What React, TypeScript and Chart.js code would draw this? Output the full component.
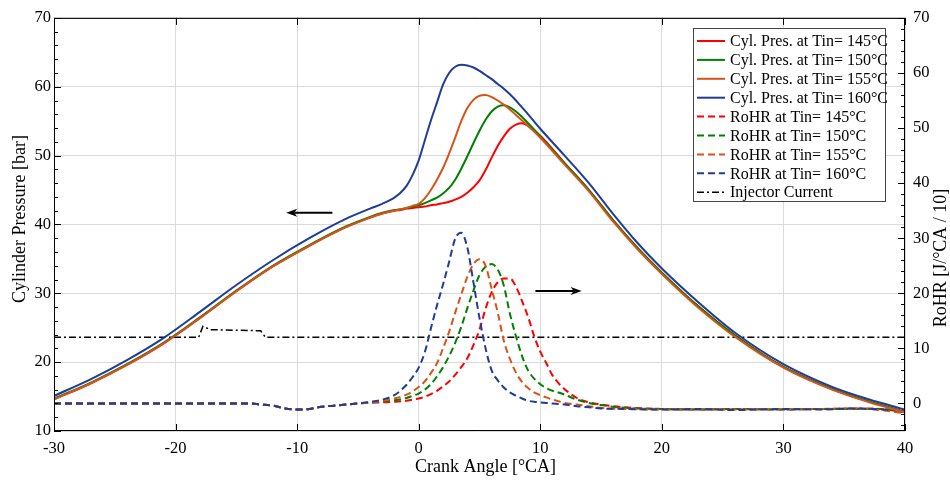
import React, { useEffect, useRef } from "react";
import { Chart, registerables } from "chart.js";
Chart.register(...registerables);

// ---------- data ----------
const CRANK_P = [-30, -27, -24, -21, -18, -15, -12, -9, -6, -4, -3, -2, -1.5, -1, -0.5, 0, 0.5, 1, 1.5, 2, 2.5, 3, 3.5, 4, 4.5, 5, 5.5, 6, 6.5, 7, 7.5, 8, 8.5, 9, 10, 12, 14, 16, 18, 20, 23, 26, 30, 34, 37, 40];
const P145 = [14.6, 16.9, 19.6, 22.7, 26.4, 30.3, 33.9, 36.9, 39.6, 41.0, 41.6, 42.0, 42.1, 42.3, 42.4, 42.5, 42.6, 42.8, 42.9, 43.1, 43.3, 43.6, 44.0, 44.6, 45.4, 46.4, 47.9, 49.7, 51.4, 52.8, 53.9, 54.5, 54.7, 54.3, 52.9, 48.9, 45.0, 40.6, 36.6, 33.0, 28.1, 23.9, 19.3, 16.1, 14.3, 12.8];
const P150 = [14.7, 17.0, 19.7, 22.8, 26.5, 30.4, 34.0, 37.0, 39.7, 41.1, 41.7, 42.1, 42.2, 42.4, 42.6, 42.8, 43.1, 43.5, 43.9, 44.5, 45.3, 46.5, 48.1, 49.9, 51.8, 53.6, 55.2, 56.4, 57.1, 57.3, 57.0, 56.4, 55.6, 54.7, 52.8, 48.9, 45.0, 40.6, 36.6, 33.0, 28.1, 23.9, 19.3, 16.1, 14.3, 12.8];
const P155 = [14.6, 16.9, 19.6, 22.7, 26.4, 30.3, 33.9, 36.9, 39.6, 41.0, 41.6, 42.0, 42.2, 42.4, 42.7, 43.0, 43.8, 45.0, 46.5, 48.2, 50.3, 52.6, 55.0, 56.9, 58.1, 58.7, 58.8, 58.5, 58.0, 57.4, 56.7, 55.9, 55.1, 54.3, 52.6, 48.7, 44.8, 40.4, 36.4, 32.8, 27.9, 23.7, 19.2, 16.0, 14.2, 12.7];
const P160 = [15.1, 17.5, 20.3, 23.5, 27.3, 31.2, 34.8, 38.0, 40.8, 42.3, 43.0, 43.9, 44.6, 45.6, 47.2, 49.3, 52.2, 55.1, 57.7, 60.3, 62.0, 62.9, 63.2, 63.1, 62.8, 62.3, 61.7, 61.1, 60.4, 59.7, 58.9, 58.0, 57.0, 56.0, 53.9, 50.0, 46.0, 41.5, 37.3, 33.6, 28.7, 24.3, 19.7, 16.4, 14.6, 13.1];

const CRANK_R = [-30, -20, -14, -13, -12, -11, -10, -9, -8, -7, -6, -5, -4, -3, -2, -1, -0.5, 0, 0.5, 1, 1.5, 2, 2.5, 3, 3.5, 4, 4.5, 5, 5.5, 6, 6.5, 7, 7.5, 8, 8.5, 9, 9.5, 10, 10.5, 11, 11.5, 12, 13, 14, 15, 17, 20, 23, 26, 30, 33, 36, 38, 40];
const R145 = [0, 0, 0, -0.2, -0.4, -0.9, -1.1, -1.0, -0.6, -0.4, -0.2, 0, 0.1, 0.2, 0.3, 0.5, 0.7, 0.9, 1.2, 1.7, 2.3, 3.1, 4.0, 5.2, 6.6, 8.2, 10.6, 13.4, 17.2, 20.2, 22.0, 22.7, 22.7, 21.2, 18.6, 15.7, 12.2, 9.4, 7.3, 5.1, 3.7, 2.6, 1.0, 0.2, -0.2, -0.7, -1.0, -1.1, -1.0, -1.1, -1.0, -0.9, -1.0, -1.6];
const R150 = [0, 0, 0, -0.2, -0.4, -0.9, -1.1, -1.0, -0.6, -0.4, -0.2, 0, 0.2, 0.4, 0.6, 1.0, 1.4, 1.8, 2.5, 3.5, 4.9, 6.6, 8.6, 11.0, 13.9, 17.3, 20.5, 23.3, 24.8, 25.3, 24.3, 21.4, 16.3, 12.2, 8.6, 6.0, 4.5, 3.5, 2.8, 2.3, 2.0, 1.6, 0.7, 0.1, -0.3, -0.8, -1.0, -1.1, -1.0, -1.1, -1.0, -1.0, -1.0, -1.5];
const R155 = [0, 0, 0, -0.2, -0.4, -0.9, -1.1, -1.0, -0.6, -0.4, -0.2, 0, 0.2, 0.5, 0.9, 1.6, 2.2, 3.0, 4.0, 5.5, 7.3, 10.0, 13.0, 16.5, 19.8, 23.0, 25.3, 26.2, 25.0, 20.8, 16.5, 11.4, 8.1, 5.6, 3.9, 2.8, 2.0, 1.5, 1.1, 0.7, 0.4, 0.1, -0.2, -0.5, -0.8, -1.0, -1.1, -1.1, -1.1, -1.0, -1.0, -0.9, -1.2, -1.8];
const R160 = [0, 0, 0, -0.2, -0.4, -0.9, -1.1, -1.0, -0.6, -0.4, -0.2, 0, 0.3, 0.7, 1.5, 3.4, 4.8, 6.5, 9.3, 13.6, 17.8, 21.6, 25.7, 29.9, 31.0, 28.3, 22.0, 15.5, 10.0, 6.0, 4.2, 2.9, 2.0, 1.4, 0.9, 0.5, 0.3, 0.2, 0.1, 0.0, -0.1, -0.2, -0.5, -0.7, -0.9, -1.0, -1.1, -1.0, -1.2, -1.0, -1.1, -0.9, -1.1, -1.3];

const INJ_X = [-30, -18.1, -17.75, -17.15, -13.0, -12.6, 40];
const INJ_Y = [12.0, 12.0, 14.0, 13.4, 13.2, 12.0, 12.0];

const X_TICKS = [-30, -20, -10, 0, 10, 20, 30, 40];
const LEFT_TICKS = [10, 20, 30, 40, 50, 60, 70];
const RIGHT_TICKS = [0, 10, 20, 30, 40, 50, 60, 70];

const LEGEND_LABELS = [
  "Cyl. Pres. at Tin= 145°C",
  "Cyl. Pres. at Tin= 150°C",
  "Cyl. Pres. at Tin= 155°C",
  "Cyl. Pres. at Tin= 160°C",
  "RoHR at Tin= 145°C",
  "RoHR at Tin= 150°C",
  "RoHR at Tin= 155°C",
  "RoHR at Tin= 160°C",
  "Injector Current",
];

// annotation arrows (data coordinates)
const ARROW_LEFT = { from: -7.1, to: -10.9, y: 41.7 }; // pressure axis
const ARROW_RIGHT = { from: 9.6, to: 13.4, y: 20.4 }; // RoHR axis

const C_RED = "#ff0000";
const C_GREEN = "#008000";
const C_ORANGE = "#d95319";
const C_BLUE = "#1f3c98";
const FONT = '"Liberation Serif", "Times New Roman", serif';

const pts = (xs: number[], ys: number[]) => xs.map((x, i) => ({ x, y: ys[i] }));

const overlayPlugin = {
  id: "overlay",
  afterDraw(chart: any) {
    const { ctx, chartArea: a, scales } = chart;
    const xs = scales.x, yl = scales.y, yr = scales.y1;
    ctx.save();
    ctx.strokeStyle = "#000";
    ctx.lineWidth = 1;
    // frame
    ctx.strokeRect(a.left + 0.5, a.top + 0.5, a.right - a.left - 1, a.bottom - a.top - 1);
    // inside ticks
    ctx.beginPath();
    for (let v = 10; v <= 70; v += 2) {
      const y = Math.round(yl.getPixelForValue(v)) + 0.5;
      const len = v % 10 === 0 ? 7 : 4;
      ctx.moveTo(a.left, y);
      ctx.lineTo(a.left + len, y);
    }
    for (let v = -4; v <= 70; v += 2) {
      const y = Math.round(yr.getPixelForValue(v)) + 0.5;
      const len = v % 10 === 0 ? 7 : 4;
      ctx.moveTo(a.right, y);
      ctx.lineTo(a.right - len, y);
    }
    for (const v of X_TICKS) {
      const x = Math.round(xs.getPixelForValue(v)) + 0.5;
      ctx.moveTo(x, a.bottom);
      ctx.lineTo(x, a.bottom - 7);
      ctx.moveTo(x, a.top);
      ctx.lineTo(x, a.top + 7);
    }
    ctx.stroke();

    // arrows
    const arrow = (x1: number, x2: number, y: number) => {
      ctx.strokeStyle = "#000";
      ctx.fillStyle = "#000";
      ctx.lineWidth = 2;
      const dir = Math.sign(x2 - x1);
      ctx.beginPath();
      ctx.moveTo(x1, y);
      ctx.lineTo(x2 - dir * 8, y);
      ctx.stroke();
      ctx.beginPath();
      ctx.moveTo(x2, y);
      ctx.lineTo(x2 - dir * 11, y - 4);
      ctx.lineTo(x2 - dir * 8, y);
      ctx.lineTo(x2 - dir * 11, y + 4);
      ctx.closePath();
      ctx.fill();
    };
    arrow(xs.getPixelForValue(ARROW_LEFT.from), xs.getPixelForValue(ARROW_LEFT.to), yl.getPixelForValue(ARROW_LEFT.y));
    arrow(xs.getPixelForValue(ARROW_RIGHT.from), xs.getPixelForValue(ARROW_RIGHT.to), yr.getPixelForValue(ARROW_RIGHT.y));

    // legend
    const lx = 693.5, ly = 28.5, lw = 192, lh = 173;
    ctx.fillStyle = "#fff";
    ctx.fillRect(lx, ly, lw, lh);
    ctx.strokeStyle = "#444";
    ctx.lineWidth = 1;
    ctx.strokeRect(lx, ly, lw, lh);
    const ds = chart.data.datasets;
    ctx.font = `16px ${FONT}`;
    ctx.textBaseline = "middle";
    ctx.textAlign = "left";
    LEGEND_LABELS.forEach((label, i) => {
      const d = ds[i];
      const y = 41 + i * 18.9;
      ctx.save();
      ctx.strokeStyle = d.borderColor;
      ctx.lineWidth = d.borderWidth;
      ctx.setLineDash(d.borderDash || []);
      ctx.beginPath();
      ctx.moveTo(697, y);
      ctx.lineTo(725, y);
      ctx.stroke();
      ctx.restore();
      ctx.fillStyle = "#000";
      ctx.fillText(label, 730, y + 1);
    });

    // titles
    ctx.fillStyle = "#000";
    ctx.font = `18px ${FONT}`;
    ctx.textAlign = "center";
    ctx.textBaseline = "middle";
    ctx.fillText("Crank Angle [°CA]", (a.left + a.right) / 2 + 6, 467);
    ctx.save();
    ctx.translate(20, 219);
    ctx.rotate(-Math.PI / 2);
    ctx.fillText("Cylinder Pressure [bar]", 0, 0);
    ctx.restore();
    ctx.save();
    ctx.translate(941, 258);
    ctx.rotate(-Math.PI / 2);
    ctx.fillText("RoHR [J/°CA / 10]", 0, 0);
    ctx.restore();
    ctx.restore();
  },
};

export default function App() {
  const ref = useRef<HTMLCanvasElement>(null);
  useEffect(() => {
    if (!ref.current) return;
    const dashR = [7, 4];
    const line = (data: any, color: string, axis: string, dash?: number[]) => ({
      data,
      borderColor: color,
      backgroundColor: color,
      borderWidth: 2,
      borderDash: dash,
      pointRadius: 0,
      fill: false,
      yAxisID: axis,
      cubicInterpolationMode: "monotone",
    });
    const datasets: any[] = [
      { ...line(pts(CRANK_P, P145), C_RED, "y"), order: 6 },
      { ...line(pts(CRANK_P, P150), C_GREEN, "y"), order: 5 },
      { ...line(pts(CRANK_P, P155), C_ORANGE, "y"), order: 4 },
      { ...line(pts(CRANK_P, P160), C_BLUE, "y"), order: 3 },
      { ...line(pts(CRANK_R, R145), C_RED, "y1", dashR), order: 10 },
      { ...line(pts(CRANK_R, R150), C_GREEN, "y1", dashR), order: 9 },
      { ...line(pts(CRANK_R, R155), C_ORANGE, "y1", dashR), order: 8 },
      { ...line(pts(CRANK_R, R160), C_BLUE, "y1", dashR), order: 7 },
      {
        data: pts(INJ_X, INJ_Y),
        borderColor: "#000",
        backgroundColor: "#000",
        borderWidth: 1.5,
        borderDash: [7, 3, 2, 3],
        pointRadius: 0,
        tension: 0,
        fill: false,
        yAxisID: "y1",
        order: 11,
      },
    ];
    const tickFont = { family: FONT, size: 16.5 };
    const chart = new Chart(ref.current, {
      type: "line",
      data: { datasets },
      plugins: [overlayPlugin],
      options: {
        animation: false,
        responsive: false,
        maintainAspectRatio: false,
        layout: { padding: { top: 17, left: 0, right: 0, bottom: 0 } },
        plugins: { legend: { display: false }, tooltip: { enabled: false } },
        scales: {
          x: {
            type: "linear",
            min: -30,
            max: 40,
            afterBuildTicks: (s: any) => { s.ticks = X_TICKS.map((v) => ({ value: v })); },
            afterFit: (s: any) => { s.height = 52; },
            ticks: { font: tickFont, color: "#000", padding: 8, maxRotation: 0 },
            grid: { color: "#dadada", drawTicks: false },
            border: { display: false },
          },
          y: {
            type: "linear",
            position: "left",
            min: 10,
            max: 70,
            afterBuildTicks: (s: any) => { s.ticks = LEFT_TICKS.map((v) => ({ value: v })); },
            afterFit: (s: any) => { s.width = 54; },
            ticks: { font: tickFont, color: "#000", padding: 3 },
            grid: { color: "#dadada", drawTicks: false },
            border: { display: false },
          },
          y1: {
            type: "linear",
            position: "right",
            min: -5,
            max: 70,
            afterBuildTicks: (s: any) => { s.ticks = RIGHT_TICKS.map((v) => ({ value: v })); },
            afterFit: (s: any) => { s.width = 45; },
            ticks: { font: tickFont, color: "#000", padding: 8 },
            grid: { display: false, drawTicks: false },
            border: { display: false },
          },
        },
      } as any,
    });
    return () => chart.destroy();
  }, []);
  return (
    <div style={{ position: "fixed", left: 0, top: 0, width: 950, height: 483, background: "#fff" }}>
      <canvas ref={ref} width={950} height={483} style={{ width: 950, height: 483 }} />
    </div>
  );
}
